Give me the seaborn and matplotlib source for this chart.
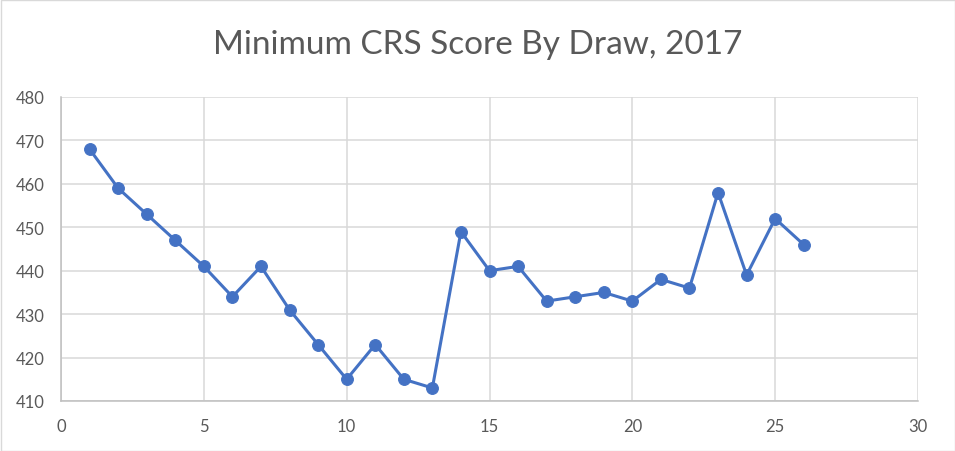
import matplotlib
matplotlib.use("Agg")
import matplotlib.pyplot as plt
import seaborn as sns
import pandas as pd
from matplotlib.patches import Rectangle

draws = list(range(1, 27))
scores = [468, 459, 453, 447, 441, 434, 441, 431, 423, 415, 423, 415, 413,
          449, 440, 441, 433, 434, 435, 433, 438, 436, 458, 439, 452, 446]
x_ticks = [0, 5, 10, 15, 20, 25, 30]
y_ticks = [410, 420, 430, 440, 450, 460, 470, 480]
title = "Minimum CRS Score By Draw, 2017"

df = pd.DataFrame({"Draw": draws, "Score": scores})

sns.set_theme(style="white")
plt.rcParams['font.family'] = ['Lato', 'DejaVu Sans']

fig = plt.figure(figsize=(9.55, 4.52), dpi=100)
ax = fig.add_axes([61/955, 1-402/452, (918-61)/955, (402-98)/452])

sns.lineplot(data=df, x="Draw", y="Score", ax=ax, color="#4472C4",
             linewidth=2.2, marker="o", markersize=8.5,
             markeredgecolor="#4472C4", markerfacecolor="#4472C4")

ax.set_xlim(0, 30)
ax.set_ylim(410, 480)
ax.set_xticks(x_ticks)
ax.set_yticks(y_ticks)
ax.grid(True, color="#d9d9d9", linewidth=1.1)
ax.set_axisbelow(True)
for s in ["top", "right"]:
    ax.spines[s].set_visible(False)
for s in ["left", "bottom"]:
    ax.spines[s].set_color("#bfbfbf")
    ax.spines[s].set_linewidth(1.1)
ax.tick_params(axis="both", length=0, labelsize=12, labelcolor="#595959")
ax.tick_params(axis="y", pad=12)
ax.tick_params(axis="x", pad=12)
ax.set_xlabel("")
ax.set_ylabel("")

fig.text(0.5, 1-45/452, title, ha="center", va="center", fontsize=24,
         color="#595959")

fig.patches.append(Rectangle((0.5/955, 0.5/452), 1-1/955, 1-1/452,
                             transform=fig.transFigure, fill=False,
                             edgecolor="#d9d9d9", linewidth=1.0))

fig.savefig("out.png", dpi=100)
